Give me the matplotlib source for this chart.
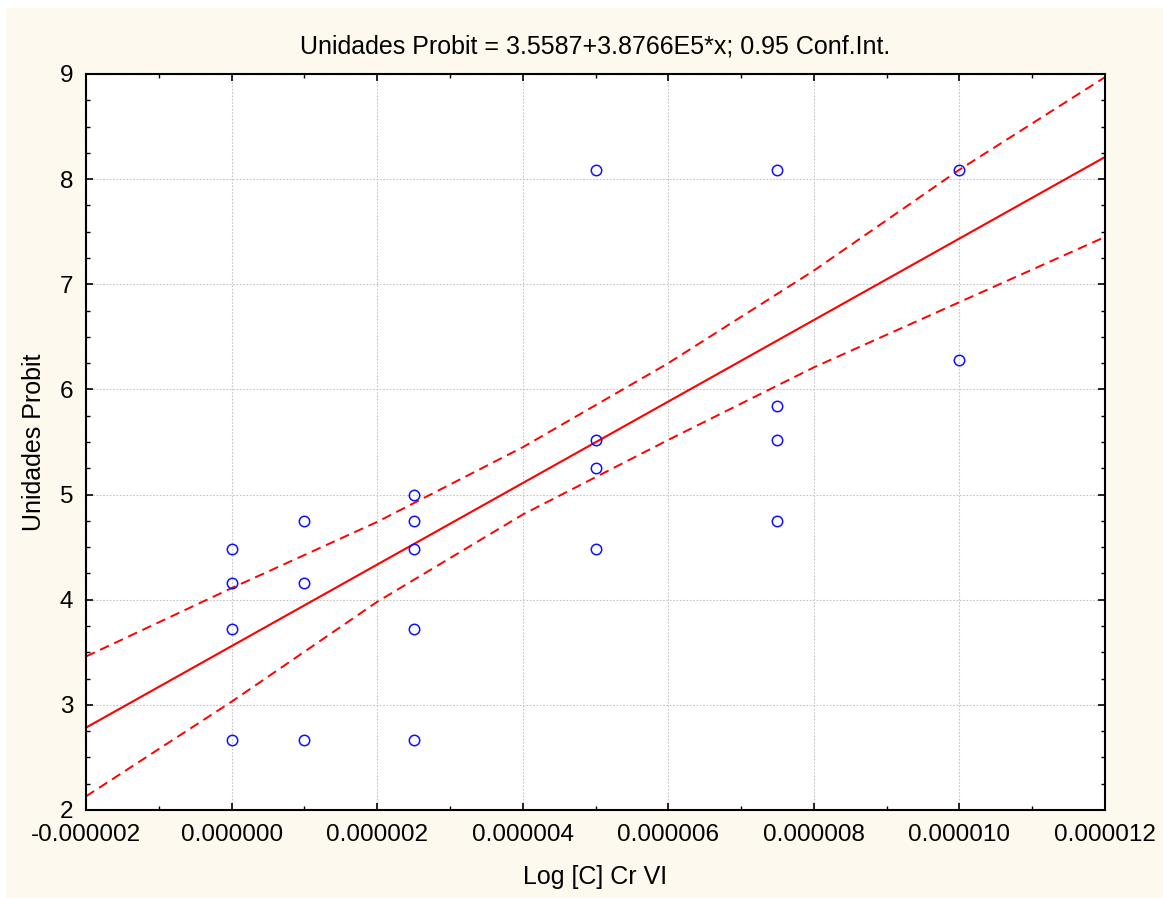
import numpy as np
import matplotlib
matplotlib.use("Agg")
import matplotlib.pyplot as plt
from matplotlib.ticker import MultipleLocator, FormatStrFormatter
from matplotlib.patches import Rectangle

plt.rcParams['font.family'] = ['Liberation Sans', 'DejaVu Sans']

# data
conc = [0.0, 0.0, 0.0, 0.0,
        1e-6, 1e-6, 1e-6,
        2.5e-6, 2.5e-6, 2.5e-6, 2.5e-6, 2.5e-6,
        5e-6, 5e-6, 5e-6, 5e-6,
        7.5e-6, 7.5e-6, 7.5e-6, 7.5e-6,
        10e-6, 10e-6]
probit = [4.48, 4.16, 3.72, 2.67,
          4.75, 4.16, 2.67,
          5.00, 4.75, 4.48, 3.72, 2.67,
          8.09, 5.52, 5.25, 4.48,
          8.09, 5.84, 5.52, 4.75,
          8.09, 6.28]
intercept = 3.5587
slope = 3.8766e5

# 0.95 confidence band
band_x = [-2e-6, 0.0, 2e-6, 4e-6, 6e-6, 8e-6, 10e-6, 12e-6]
band_upper = [3.46, 4.11, 4.74, 5.45, 6.25, 7.13, 8.09, 8.97]
band_lower = [2.13, 3.03, 3.98, 4.81, 5.52, 6.21, 6.83, 7.45]

xs = np.array([-2e-6, 12e-6])
yfit = intercept + slope * xs

fig = plt.figure(figsize=(11.63, 8.98), dpi=100, facecolor='white')
fig.patches.append(Rectangle((6 / 1163, 0), 1 - 6 / 1163, 1 - 8 / 898,
                             transform=fig.transFigure, facecolor='#FDF9EE',
                             edgecolor='none', zorder=-10))
ax = fig.add_axes([86 / 1163, 1 - 810 / 898, (1105 - 86) / 1163, (810 - 74) / 898])
ax.set_facecolor('white')

ax.plot(xs, yfit, color='#FF0000', lw=1.5)
ax.plot(band_x, band_upper, color='#FF0000', lw=1.4, dashes=(5, 3))
ax.plot(band_x, band_lower, color='#FF0000', lw=1.4, dashes=(5, 3))
ax.plot(conc, probit, 'o', mfc='none', mec='#1010FF', mew=1.1, ms=7.5, ls='none')

ax.set_xlim(-2e-6, 12e-6)
ax.set_ylim(2, 9)
ax.xaxis.set_major_locator(MultipleLocator(2e-6))
ax.xaxis.set_minor_locator(MultipleLocator(1e-6))
ax.yaxis.set_major_locator(MultipleLocator(1))
ax.yaxis.set_minor_locator(MultipleLocator(0.25))
ax.xaxis.set_major_formatter(FormatStrFormatter('%.6f'))
ax.yaxis.set_major_formatter(FormatStrFormatter('%d'))

ax.grid(True, which='major', color='#C4C4C4', ls=(0, (1.5, 1.5)), lw=0.8)
ax.tick_params(which='both', direction='in', top=True, right=True, labelsize=17.5)
ax.tick_params(which='major', length=5, width=1.2)
ax.tick_params(which='minor', length=3, width=1.0)
ax.tick_params(axis='x', pad=10)
ax.tick_params(axis='y', pad=9)
for sp in ax.spines.values():
    sp.set_linewidth(1.5)

ax.set_title('Unidades Probit = 3.5587+3.8766E5*x; 0.95 Conf.Int.', fontsize=18, pad=15)
ax.set_xlabel('Log [C] Cr VI', fontsize=18, labelpad=14)
ax.set_ylabel('Unidades Probit', fontsize=18, labelpad=10)

fig.savefig('out.png', dpi=100, facecolor=fig.get_facecolor())
